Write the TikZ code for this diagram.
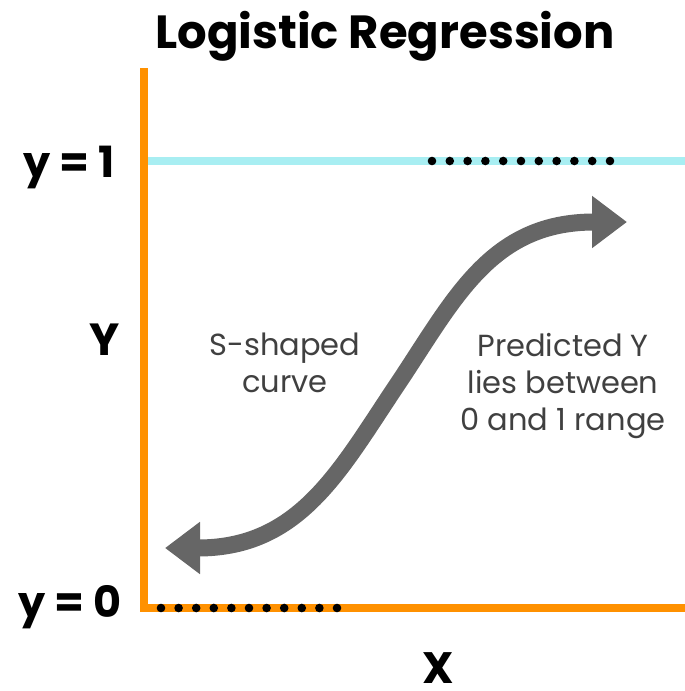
\documentclass[tikz,border=0pt]{standalone}
\usepackage{fontspec}
\setmainfont{Poppins}
\usetikzlibrary{arrows.meta}
\definecolor{axisorange}{HTML}{FF9100}
\definecolor{limitcyan}{HTML}{A8EEF2}
\definecolor{curvegray}{HTML}{666666}
\definecolor{notegray}{HTML}{404040}
\tikzset{
  axisline/.style={axisorange, line width=8},
  bound/.style={anchor=base, font=\fontsize{43}{43}\selectfont\bfseries},
  note/.style={anchor=base, notegray, align=center, font=\fontsize{30.5}{37}\selectfont},
  sarrow/.style={curvegray, line width=17, {Triangle[length=35pt,width=50pt]}-{Triangle[length=35pt,width=50pt]}},
}
\begin{document}
\begin{tikzpicture}[x=1pt,y=-1pt]
\useasboundingbox (0,0) rectangle (685,691);

\node[anchor=base, font=\fontsize{46.5}{46.5}\selectfont\bfseries] (title) at (385,48) {Logistic Regression};

% axes
\coordinate (ytop) at (144,68);
\coordinate (origin) at (144,608);
\coordinate (xend) at (685,608);
\draw[axisline] (ytop) -- (origin) -- (xend);

% upper limit
\coordinate (oneleft) at (148,161);
\coordinate (oneright) at (685,161);
\draw[limitcyan, line width=8] (oneleft) -- (oneright);

\foreach \i in {0,...,10}
  \fill (432+17.8*\i,161) circle (4.3);
\foreach \i in {0,...,10}
  \fill (161+17.6*\i,608) circle (4.3);

\node[bound] (onelabel) at (69,177) {y = 1};
\node[bound] (zerolabel) at (70,617) {y = 0};
\node[bound, font=\fontsize{45}{45}\selectfont\bfseries] (ylabel) at (105,355) {Y};
\node[bound, inner sep=0pt, font=\fontsize{44}{44}\selectfont\bfseries] (xlabel) at (438,683) {X};

% sigmoid
\coordinate (lowtip) at (165,548);
\coordinate (hightip) at (627,222);
\draw[sarrow] (lowtip) .. controls (300,548) and (340,470) .. (397,385)
  .. controls (454,300) and (490,222) .. (hightip);

\node[note] (shapenote) at (285,392) {S-shaped\\curve};
\node[note] (rangenote) at (563,430) {Predicted Y\\lies between\\0 and 1 range};

\end{tikzpicture}
\end{document}
